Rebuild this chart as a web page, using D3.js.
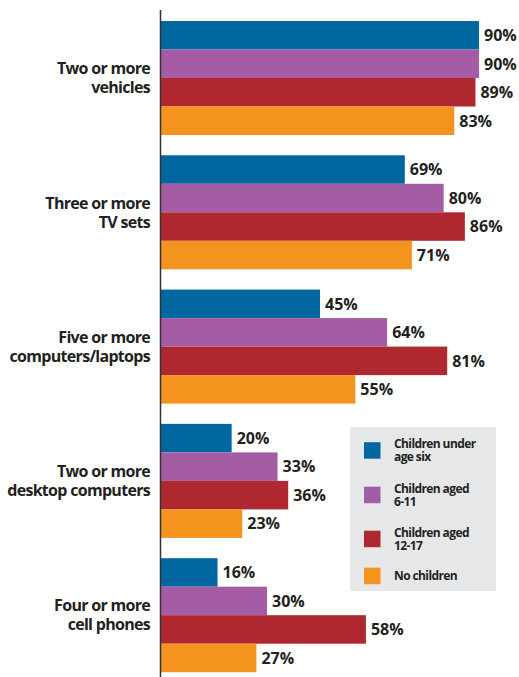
<!DOCTYPE html>
<html>
<head>
<meta charset="utf-8">
<script src="https://cdn.jsdelivr.net/npm/d3@7"></script>
<style>
  html, body { margin: 0; padding: 0; background: #fff; }
  svg { display: block; font-family: "Open Sans", sans-serif; }
</style>
</head>
<body>
<script>
// chart values
const categories = [
    ["Two or more", "vehicles"],
    ["Three or more", "TV sets"],
    ["Five or more", "computers/laptops"],
    ["Two or more", "desktop computers"],
    ["Four or more", "cell phones"]
];
const seriesNames = [
    ["Children under", "age six"],
    ["Children aged", "6-11"],
    ["Children aged", "12-17"],
    ["No children"]
];
const underSix   = [90, 69, 45, 20, 16];
const aged6to11  = [90, 80, 64, 33, 30];
const aged12to17 = [89, 86, 81, 36, 58];
const noChildren = [83, 71, 55, 23, 27];
const colors = ["#0067a1", "#a45da5", "#b0282f", "#f5931f"];

const series = [underSix, aged6to11, aged12to17, noChildren];

let width = 519, height = 677;
let svg = d3.select("body").append("svg")
    .attr("width", width)
    .attr("height", height);

let x = d3.scaleLinear([0, 90], [161, 479]);
let y0 = d3.scaleBand(d3.range(categories.length), [10.85, 682.35])
    .paddingInner(0.151)
    .paddingOuter(0.0755);
let y1 = d3.scaleBand(d3.range(series.length), [0, y0.bandwidth()]);

let groups = svg.append("g")
  .selectAll("g")
  .data(categories)
  .join("g")
    .attr("transform", (d, i) => `translate(0,${y0(i)})`);

groups.selectAll("rect")
  .data((d, i) => series.map((s, j) => ({v: s[i], j: j})))
  .join("rect")
    .attr("x", x(0))
    .attr("y", d => y1(d.j))
    .attr("width", d => x(d.v) - x(0))
    .attr("height", y1.bandwidth())
    .attr("fill", d => colors[d.j]);

groups.selectAll("text.val")
  .data((d, i) => series.map((s, j) => ({v: s[i], j: j})))
  .join("text")
    .attr("class", "val")
    .attr("x", d => x(d.v) + 5)
    .attr("y", d => y1(d.j) + y1.bandwidth() / 2)
    .attr("dy", "0.36em")
    .attr("font-size", 16)
    .attr("font-weight", 700)
    .attr("fill", "#231f20")
    .text(d => d.v + "%");

// category labels
groups.append("text")
    .attr("text-anchor", "end")
    .attr("font-size", 16)
    .attr("font-weight", 700)
    .attr("fill", "#231f20")
    .attr("letter-spacing", "-0.7px")
  .selectAll("tspan")
  .data(d => d)
  .join("tspan")
    .attr("x", 150)
    .attr("y", (d, k) => y0.bandwidth() / 2 - 9.5 + k * 19)
    .attr("dy", "0.36em")
    .text(d => d);

// vertical axis line
svg.append("line")
    .attr("x1", 160.5).attr("x2", 160.5)
    .attr("y1", 10).attr("y2", height)
    .attr("stroke", "#333")
    .attr("stroke-width", 1.5);

// legend
let legend = svg.append("g");
legend.append("rect")
    .attr("x", 350).attr("y", 427)
    .attr("width", 146).attr("height", 164)
    .attr("fill", "#e6e7e8");

let legendY = [450.5, 495, 539, 576];
let items = legend.selectAll("g.item")
  .data(seriesNames)
  .join("g")
    .attr("class", "item")
    .attr("transform", (d, i) => `translate(364,${legendY[i]})`);

items.append("rect")
    .attr("x", 0).attr("y", -8.3)
    .attr("width", 16.5).attr("height", 16.5)
    .attr("fill", (d, i) => colors[i]);

items.append("text")
    .attr("font-size", 12)
    .attr("font-weight", 700)
    .attr("fill", "#231f20")
    .attr("letter-spacing", "-0.6px")
  .selectAll("tspan")
  .data(d => d.map(t => ({t: t, n: d.length})))
  .join("tspan")
    .attr("x", 30)
    .attr("y", (d, k) => d.n === 1 ? 0 : -6.5 + k * 13)
    .attr("dy", "0.36em")
    .text(d => d.t);
</script>
</body>
</html>
